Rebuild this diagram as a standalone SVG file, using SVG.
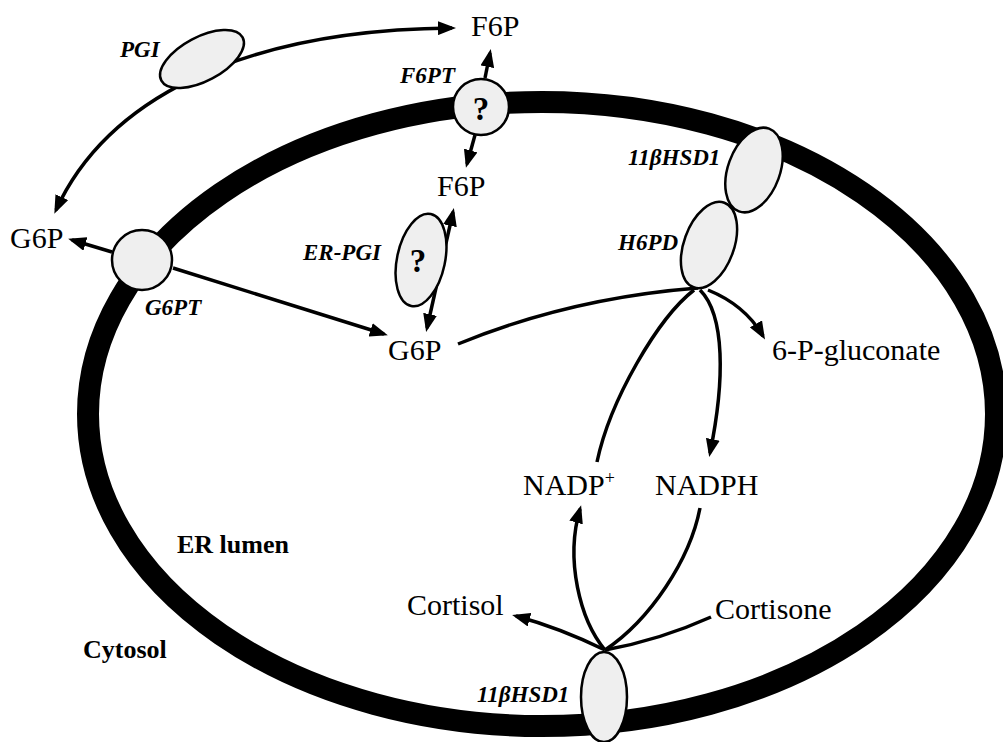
<svg xmlns="http://www.w3.org/2000/svg" width="1003" height="742" viewBox="0 0 1003 742">
<defs>
<style>
.lbl{font-family:"Liberation Serif","Times New Roman",serif;font-size:30px;fill:#000}
.enz{font-family:"Liberation Serif","Times New Roman",serif;font-size:23px;font-weight:bold;font-style:italic;fill:#000}
.reg{font-family:"Liberation Serif","Times New Roman",serif;font-size:26px;font-weight:bold;fill:#000}
.q{font-family:"Liberation Serif","Times New Roman",serif;font-size:33px;font-weight:bold;fill:#000;text-anchor:middle}
.prot{fill:#efefef;stroke:#000;stroke-width:2.5}
.con{fill:none;stroke:#000;stroke-width:3.5}
.arr{marker-end:url(#ah)}
.arr2{marker-start:url(#ah);marker-end:url(#ah)}
</style>
<marker id="ah" markerUnits="userSpaceOnUse" markerWidth="18" markerHeight="14" viewBox="0 0 18 14" refX="14" refY="7" orient="auto-start-reverse">
<path d="M0,0 L18,7 L0,14 z" fill="#000"/>
</marker>
</defs>
<rect width="1003" height="742" fill="#fff"/>
<g id="membrane">
<ellipse cx="542" cy="414" rx="454" ry="312" fill="none" stroke="#000" stroke-width="22"/>
</g>
<g id="connectors">
<path class="con arr2" d="M56,210 C105,103 235,30 452,28"/>
<path class="con arr" d="M112,252 L72,240"/>
<path class="con arr" d="M173,268 L384,334"/>
<path class="con arr" d="M485,78 L490,53"/>
<path class="con arr" d="M475,135 L467,164"/>
<path class="con arr2" d="M427,328 L453,212"/>
<path class="con" d="M458,344 Q570,298 698,288"/>
<path class="con arr" d="M708,290 Q745,305 763,336"/>
<path class="con" d="M694,290 C658,318 610,400 597,462"/>
<path class="con arr" d="M700,290 C725,315 725,380 710,453"/>
<path class="con arr" d="M605,650 C580,620 565,560 580,509"/>
<path class="con" d="M605,650 C650,620 690,560 700,508"/>
<path class="con arr" d="M605,650 Q560,628 516,616"/>
<path class="con" d="M605,650 Q660,640 711,617"/>
</g>
<g id="pgi">
<ellipse class="prot" cx="202" cy="59" rx="46" ry="22" transform="rotate(-28 202 59)"/>
<text class="enz" x="120" y="57">PGI</text>
</g>
<g id="f6pt">
<circle class="prot" cx="481" cy="107" r="28"/>
<text class="q" x="481" y="120">?</text>
<text class="enz" x="400" y="83">F6PT</text>
</g>
<g id="g6pt">
<circle class="prot" cx="142" cy="260" r="30"/>
<text class="enz" x="145" y="315">G6PT</text>
</g>
<g id="er-pgi">
<ellipse class="prot" cx="421" cy="260" rx="24" ry="47" transform="rotate(12 421 260)"/>
<text class="q" x="418" y="272">?</text>
<text class="enz" x="303" y="260">ER-PGI</text>
</g>
<g id="hsd1-top">
<ellipse class="prot" cx="754" cy="170" rx="26" ry="44" transform="rotate(20 754 170)"/>
<text class="enz" x="628" y="165">11βHSD1</text>
</g>
<g id="h6pd">
<ellipse class="prot" cx="709" cy="245" rx="25" ry="45" transform="rotate(20 709 245)"/>
<text class="enz" x="618" y="250">H6PD</text>
</g>
<g id="hsd1-bottom">
<ellipse class="prot" cx="604" cy="697" rx="23" ry="45"/>
<text class="enz" x="477" y="702">11βHSD1</text>
</g>
<g id="f6p-cyt"><text class="lbl" x="471" y="36">F6P</text></g>
<g id="f6p-er"><text class="lbl" x="437" y="196">F6P</text></g>
<g id="g6p-cyt"><text class="lbl" x="10" y="248">G6P</text></g>
<g id="g6p-er"><text class="lbl" x="388" y="360">G6P</text></g>
<g id="gluconate"><text class="lbl" x="772" y="360">6-P-gluconate</text></g>
<g id="nadp"><text class="lbl" x="523" y="495">NADP<tspan dy="-11" font-size="18">+</tspan></text></g>
<g id="nadph"><text class="lbl" x="655" y="495">NADPH</text></g>
<g id="cortisol"><text class="lbl" x="407" y="615">Cortisol</text></g>
<g id="cortisone"><text class="lbl" x="715" y="619">Cortisone</text></g>
<g id="er-lumen"><text class="reg" x="177" y="553">ER lumen</text></g>
<g id="cytosol"><text class="reg" x="83" y="658">Cytosol</text></g>
</svg>
